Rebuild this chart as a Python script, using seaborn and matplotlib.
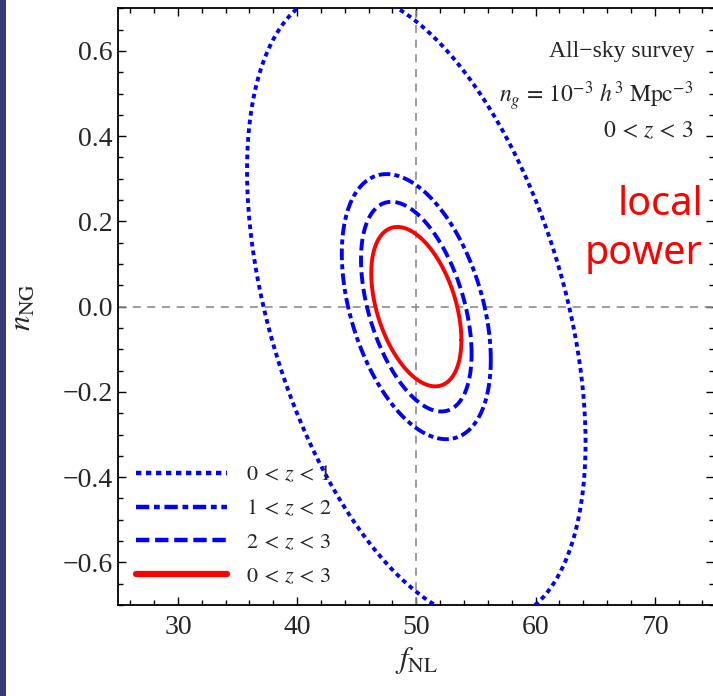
import numpy as np
import pandas as pd
import matplotlib
matplotlib.use("Agg")
import matplotlib.pyplot as plt
import seaborn as sns
from matplotlib.ticker import MultipleLocator
from matplotlib.patches import Rectangle

# ---------------- data ----------------
labels = [r"$0\,<\,z\,<\,1$", r"$1\,<\,z\,<\,2$", r"$2\,<\,z\,<\,3$", r"$0\,<\,z\,<\,3$"]
fid_fnl = 50.0
fid_nng = 0.0
sigma_fnl = [14.2, 6.25, 4.64, 3.78]     # marginal extent of each contour in f_NL
sigma_nng = [0.741, 0.311, 0.246, 0.187]  # marginal extent of each contour in n_NG
corr = [-0.43, -0.40, -0.45, -0.42]       # correlation coefficient

xticks = [30, 40, 50, 60, 70]
yticks = [-0.6, -0.4, -0.2, 0.0, 0.2, 0.4, 0.6]

# ---------------- build contour table ----------------
t = np.linspace(0, 2 * np.pi, 600)
rows = []
for lab, sx, sy, r in zip(labels, sigma_fnl, sigma_nng, corr):
    x = fid_fnl + sx * np.cos(t)
    y = fid_nng + sy * (r * np.cos(t) + np.sqrt(1 - r ** 2) * np.sin(t))
    rows.append(pd.DataFrame({"fNL": x, "nNG": y, "sample": lab}))
df = pd.concat(rows, ignore_index=True)

palette = {labels[0]: "#0000ff", labels[1]: "#0000ff", labels[2]: "#0000ff", labels[3]: "#ff0000"}
dashes = {labels[0]: (1.2, 1.05), labels[1]: (3.0, 1.05, 1.3, 1.05),
          labels[2]: (3.0, 1.3), labels[3]: ""}

# ---------------- figure ----------------
sns.set_style("ticks")
plt.rcParams["font.family"] = ["Liberation Serif", "DejaVu Serif"]
plt.rcParams["mathtext.fontset"] = "stix"
plt.rcParams["axes.unicode_minus"] = True

fig = plt.figure(figsize=(7.13, 6.96), dpi=100)
ax = fig.add_axes([118.3 / 713, 91 / 696, 596 / 713, 596.7 / 696])

# left slide stripe
fig.patches.append(Rectangle((0, 0), 6 / 713, 1, transform=fig.transFigure,
                             facecolor="#3b3b78", edgecolor="none", zorder=10))

ax.axvline(fid_fnl, color="0.55", lw=1.2, dashes=(4.8, 4), zorder=1)
ax.axhline(fid_nng, color="0.55", lw=1.2, dashes=(4.8, 4), zorder=1)

sns.lineplot(data=df, x="fNL", y="nNG", hue="sample", style="sample",
             hue_order=labels, style_order=labels, palette=palette, dashes=dashes,
             sort=False, estimator=None, units="sample", lw=2.8, ax=ax, zorder=3)

ax.set_xlim(25, 75)
ax.set_ylim(-0.7, 0.7)
ax.xaxis.set_minor_locator(MultipleLocator(2))
ax.yaxis.set_minor_locator(MultipleLocator(0.05))
ax.set_yticks(yticks)
ax.set_yticklabels([f"{v:.1f}".replace("-", "\u2212") for v in yticks])
ax.set_xticks(xticks)
ax.set_xticklabels([str(v) for v in xticks])

ax.tick_params(which="both", direction="in", top=True, right=True, width=1, color="black")
ax.tick_params(which="major", length=6, labelsize=20)
ax.tick_params(which="minor", length=3.5)
ax.tick_params(axis="x", pad=7)
ax.tick_params(axis="y", pad=4)
for s in ax.spines.values():
    s.set_linewidth(1.3)
    s.set_color("black")

ax.set_xlabel(r"$f_{\mathrm{NL}}$", fontsize=22, labelpad=4)
ax.set_ylabel(r"$n_{\mathrm{NG}}$", fontsize=22, labelpad=18)

# legend
handles, labs = ax.get_legend_handles_labels()
leg = ax.legend(handles, labs, loc="lower left", bbox_to_anchor=(0.0297, 0.03),
                frameon=False, fontsize=16, handlelength=4.1, handletextpad=0.85,
                labelspacing=0.6, borderaxespad=0, borderpad=0)
for ln in leg.get_lines():
    if ln.get_color() in ("#ff0000", "red"):
        ln.set_linewidth(4.5)
    else:
        ln.set_linewidth(3.2)

# annotations
ax.text(0.9676, 0.927, "All\u2212sky survey", transform=ax.transAxes, ha="right",
        va="center", fontsize=17)
ax.text(0.965, 0.852, r"$n_g\,=\,10^{-3}\ h^3\ \mathrm{Mpc}^{-3}$", transform=ax.transAxes,
        ha="right", va="center", fontsize=17)
ax.text(0.965, 0.793, r"$0\,<\,z\,<\,3$", transform=ax.transAxes, ha="right",
        va="center", fontsize=17)

ax.text(703 / 713, 1 - 215 / 696, "local", transform=fig.transFigure, ha="right",
        va="baseline", fontsize=28.5, color="#ff0000", family="Noto Sans", zorder=5)
ax.text(703 / 713, 1 - 264 / 696, "power", transform=fig.transFigure, ha="right",
        va="baseline", fontsize=28.5, color="#ff0000", family="Noto Sans", zorder=5)

fig.savefig("out.png", dpi=100)
